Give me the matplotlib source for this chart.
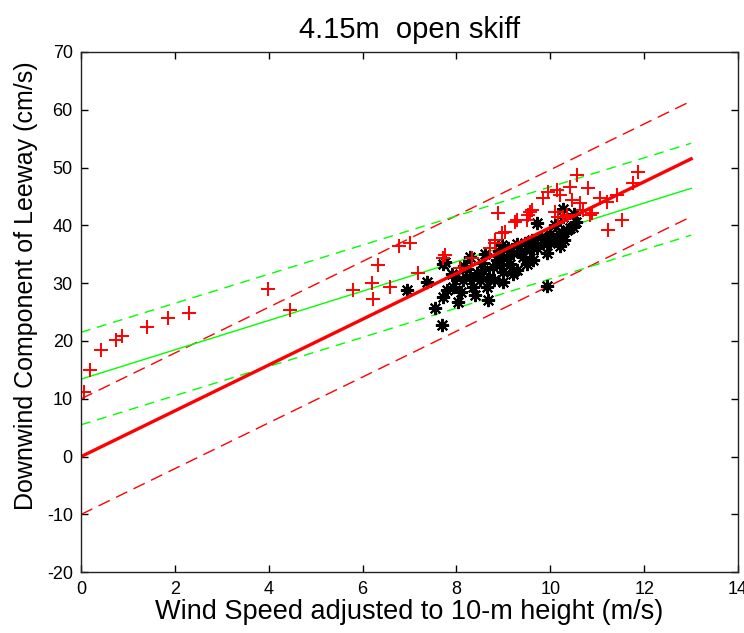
import numpy as np
import matplotlib
matplotlib.use("Agg")
import matplotlib.pyplot as plt

plt.rcParams['font.family'] = ['Liberation Sans', 'DejaVu Sans']
plt.rcParams['axes.unicode_minus'] = False

# regression lines, evaluated at the two ends of the wind range
fit_x = [0, 13]
red_fit = [0.0, 51.5]
red_upper = [10.0, 61.5]
red_lower = [-10.0, 41.5]
green_fit = [13.4, 46.4]
green_upper = [21.5, 54.2]
green_lower = [5.5, 38.3]

# leeway observations (red +)
plus_x = [0.07, 0.19, 0.43, 0.75, 0.87, 1.41, 1.86, 2.30, 3.98, 4.45,
          5.80, 6.20, 6.22, 6.33, 6.58, 6.78, 7.00, 7.18, 7.76, 7.71,
          8.08, 8.33, 8.72, 8.82, 8.82, 8.89, 8.97, 9.03, 9.25, 9.29,
          9.50, 9.52, 9.57, 9.61, 9.84, 9.95, 10.10, 10.14, 10.16, 10.20,
          10.27, 10.36, 10.42, 10.46, 10.57, 10.63, 10.70, 10.80, 10.85, 10.89,
          11.06, 11.20, 11.23, 11.42, 11.53, 11.76, 11.87]
plus_y = [11.1, 15.0, 18.4, 20.1, 20.8, 22.4, 23.9, 24.8, 29.0, 25.3,
          28.8, 30.0, 27.2, 33.1, 29.3, 36.4, 37.0, 31.7, 34.8, 34.3,
          32.6, 34.3, 36.0, 36.9, 37.4, 42.1, 38.6, 38.8, 40.6, 40.9,
          40.9, 41.8, 42.3, 42.6, 44.7, 45.7, 42.3, 46.1, 41.4, 45.2,
          41.4, 41.8, 46.6, 44.4, 48.7, 43.9, 42.6, 46.4, 41.8, 42.1,
          44.7, 44.0, 39.2, 45.2, 40.9, 47.3, 49.2]

# leeway observations (black *)
star_x = [6.95, 7.37, 7.54, 7.69, 7.71, 7.76, 7.71, 7.80, 7.93, 8.03,
          8.14, 8.29, 8.29, 8.35, 8.44, 8.50, 8.57, 8.65, 8.67, 8.78,
          8.86, 8.93, 8.97, 8.99, 9.08, 9.14, 9.21, 9.29, 9.35, 9.42,
          9.50, 9.57, 9.63, 9.72, 9.72, 9.84, 9.93, 9.93, 9.99, 10.06,
          10.14, 10.25, 10.27, 10.27, 10.36, 10.42, 10.48, 10.55, 8.00, 8.10,
          8.20, 8.40, 8.55, 8.70, 8.80, 9.00, 9.10, 9.20, 9.45, 9.60,
          9.80, 10.00, 10.10, 10.30, 10.50, 10.20, 9.90, 8.60, 8.90, 9.30,
          7.90, 8.15]
star_y = [28.8, 30.2, 25.7, 22.8, 33.4, 33.6, 27.6, 28.8, 29.3, 26.7,
          30.5, 31.1, 34.5, 29.3, 31.7, 30.5, 32.2, 29.3, 27.1, 32.8,
          34.0, 33.1, 36.6, 30.2, 34.5, 33.4, 35.2, 32.2, 35.4, 34.5,
          33.4, 35.7, 34.0, 36.0, 40.4, 36.9, 35.2, 29.5, 36.9, 37.4,
          38.0, 38.6, 42.9, 41.4, 39.2, 39.5, 39.7, 40.5, 31.0, 28.5,
          32.5, 28.0, 33.5, 31.0, 30.5, 32.0, 36.0, 31.5, 37.0, 37.5,
          38.0, 38.5, 40.0, 37.5, 42.0, 36.5, 37.8, 35.0, 35.5, 36.8,
          31.5, 33.0]

x_ticks = [0, 2, 4, 6, 8, 10, 12, 14]
y_ticks = [-20, -10, 0, 10, 20, 30, 40, 50, 60, 70]

fig = plt.figure(figsize=(7.44, 6.33), dpi=100)
ax = fig.add_axes([0.109, 0.096, 0.883, 0.822])

red_dash = (0, (9, 5))
green_dash = (0, (7, 5))
ax.plot(fit_x, red_upper, color='red', lw=1, linestyle=red_dash)
ax.plot(fit_x, red_lower, color='red', lw=1, linestyle=red_dash)
ax.plot(fit_x, green_upper, color='#00ff00', lw=1, linestyle=green_dash)
ax.plot(fit_x, green_lower, color='#00ff00', lw=1, linestyle=green_dash)
ax.plot(fit_x, green_fit, color='#00ff00', lw=1)

ax.plot(star_x, star_y, linestyle='none', marker=(8, 2, 0), color='black',
        markersize=9.5, markeredgewidth=1.5)
ax.plot(plus_x, plus_y, linestyle='none', marker='+', color='red',
        markersize=10.5, markeredgewidth=1.4)
ax.plot(fit_x, red_fit, color='red', lw=2.4)

ax.set_xlim(0, 14)
ax.set_ylim(-20, 70)
ax.set_xticks(x_ticks)
ax.set_yticks(y_ticks)
ax.tick_params(direction='in', top=True, right=True, labelsize=13,
               length=5, width=1, pad=6)
for s in ax.spines.values():
    s.set_linewidth(1)
    s.set_color('#222222')

ax.set_title('4.15m  open skiff', fontsize=21, pad=10)
ax.set_xlabel('Wind Speed adjusted to 10-m height (m/s)', fontsize=19.5, labelpad=1)
ax.set_ylabel('Downwind Component of Leeway (cm/s)', fontsize=18)
ax.yaxis.set_label_coords(-0.066, 0.55)

fig.savefig('out.png', dpi=100)
